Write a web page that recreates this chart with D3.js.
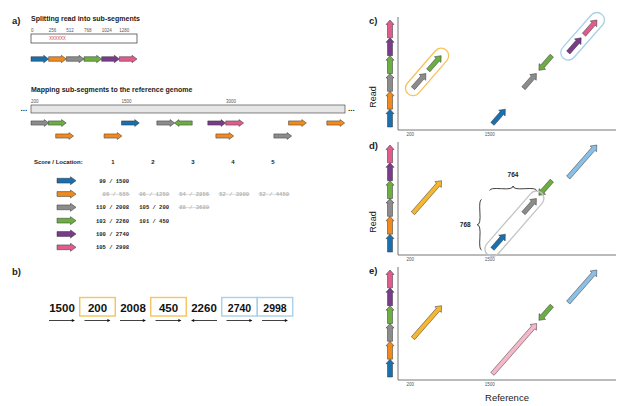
<!DOCTYPE html>
<html><head><meta charset="utf-8">
<script src="https://cdn.jsdelivr.net/npm/d3@7"></script>
<style>body{margin:0;background:#fff}</style>
</head><body><svg id="c" width="629" height="406"></svg>
<script>
// ---------------- data ----------------
const segments  = ['blue','orange','gray','green','purple','pink'];
const segColors = ['#1a6fae','#f08a1e','#8c8c8c','#6cae42','#7b3b8b','#e05c8c'];
const segLength = 256;
const readTicks = [0,256,512,768,1024,1280];
const repeatSeg = 1;                 // segment marked XXXXXX
const refTicksA = [200,1500,3000];
const refTicksC = [200,1500];
const columns   = [1,2,3,4,5];
// hits of every sub-segment
const hitSeg    = [0,1,1,1,1,1,2,2,2,3,3,4,5];
const hitScore  = [99,86,96,54,52,52,110,105,88,103,101,100,105];
const hitLoc    = [1500,555,1250,2856,3900,4450,2008,200,3689,2260,450,2740,2998];
const hitStrand = [1,1,1,1,1,1,1,1,1,-1,1,1,1];
const hitValid  = [1,0,0,0,0,0,1,1,0,1,1,1,1];
const hitLane   = [0,1,1,1,0,0,0,0,1,0,0,0,0];
// panel b
const bLocs   = [1500,200,2008,450,2260,2740,2998];
const bStrand = [1,1,1,1,-1,1,1];
const bGroup  = [0,1,0,1,0,2,2];
// merged blocks (ref start, read start, read end, strand, colour)
const mergedYellow = {ref:200,  r0:512, r1:1024, strand:1, color:'#f5b731'};
const mergedBlue   = {ref:2740, r0:1024,r1:1536, strand:1, color:'#8cbfe6'};
const mergedPink   = {ref:1500, r0:0,   r1:768,  strand:1, color:'#f5b8ca'};
const braceH = 764, braceV = 768;

// ---------------- helpers ----------------
const svg = d3.select('#c');
const FONT = "'Liberation Sans', Arial, Helvetica, sans-serif";
const MONO = "'Liberation Mono', 'DejaVu Sans Mono', monospace";
const readLength = segments.length * segLength;
const hits = hitSeg.map((s,i)=>({seg:s,score:hitScore[i],loc:hitLoc[i],strand:hitStrand[i],valid:hitValid[i],lane:hitLane[i]}));

function arrowPath(x1,y1,x2,y2,bw,hw,hl){
  const dx=x2-x1, dy=y2-y1, L=Math.hypot(dx,dy);
  const ux=dx/L, uy=dy/L, nx=-uy, ny=ux;
  const h=Math.min(hl, L*0.6);
  const bx=x2-ux*h, by=y2-uy*h;
  const p=d3.path();
  p.moveTo(x1+nx*bw, y1+ny*bw);
  p.lineTo(bx+nx*bw, by+ny*bw);
  p.lineTo(bx+nx*hw, by+ny*hw);
  p.lineTo(x2,y2);
  p.lineTo(bx-nx*hw, by-ny*hw);
  p.lineTo(bx-nx*bw, by-ny*bw);
  p.lineTo(x1-nx*bw, y1-ny*bw);
  p.closePath();
  return p.toString();
}
function drawArrow(g,x1,y1,x2,y2,color,bw,hw,hl){
  g.append('path').attr('d',arrowPath(x1,y1,x2,y2,bw,hw,hl))
    .attr('fill',color).attr('stroke','#333').attr('stroke-width',0.5).attr('stroke-linejoin','miter');
}
function text(g,x,y,t,size,opts={}){
  const el=g.append('text').attr('x',x).attr('y',y).text(t)
    .attr('font-family',opts.family||FONT).attr('font-size',size)
    .attr('font-weight',opts.weight||'normal').attr('fill',opts.fill||'#222')
    .attr('text-anchor',opts.anchor||'start');
  return el;
}
function curlyBrace(x1,y1,x2,y2,w,q){
  let dx=x1-x2, dy=y1-y2; const len=Math.hypot(dx,dy); dx/=len; dy/=len;
  const qx1=x1+q*w*dy, qy1=y1-q*w*dx;
  const qx2=(x1-.25*len*dx)+(1-q)*w*dy, qy2=(y1-.25*len*dy)-(1-q)*w*dx;
  const tx1=(x1-.5*len*dx)+w*dy, ty1=(y1-.5*len*dy)-w*dx;
  const qx3=x2+q*w*dy, qy3=y2-q*w*dx;
  const qx4=(x1-.75*len*dx)+(1-q)*w*dy, qy4=(y1-.75*len*dy)-(1-q)*w*dx;
  return `M${x1},${y1}Q${qx1},${qy1} ${qx2},${qy2}T${tx1},${ty1}M${x2},${y2}Q${qx3},${qy3} ${qx4},${qy4}T${tx1},${ty1}`;
}

// ---------------- panel a ----------------
const ga = svg.append('g');
text(ga,12,23.5,'a)',9.5,{weight:'bold'});
text(ga,31,21,'Splitting read into sub-segments',7,{weight:'bold'});
const xRead = d3.scaleLinear().domain([0,readLength]).range([31,137]);
readTicks.forEach(t=>text(ga,xRead(t),31.5,t,4.5,{fill:'#555'}));
ga.append('rect').attr('x',xRead(0)).attr('y',34).attr('width',xRead(readLength)-xRead(0)).attr('height',9)
  .attr('fill','#fff').attr('stroke','#333').attr('stroke-width',0.7);
text(ga,xRead(repeatSeg*segLength)+0.5,40,'XXXXXX',4.6,{fill:'#d9343a'})
  .attr('textLength',xRead(segLength)-xRead(0)-1).attr('lengthAdjust','spacingAndGlyphs');
segments.forEach((s,k)=>drawArrow(ga,xRead(k*segLength),59,xRead((k+1)*segLength),59,segColors[k],2.3,3.7,5));

text(ga,31,92.3,'Mapping sub-segments to the reference genome',7,{weight:'bold'});
const xRef = d3.scaleLinear().domain([200,4711]).range([31,345]);
refTicksA.forEach(t=>text(ga,xRef(t),103.2,t,4.5,{fill:'#555'}));
ga.append('rect').attr('x',xRef.range()[0]).attr('y',105).attr('width',xRef.range()[1]-xRef.range()[0]).attr('height',8)
  .attr('fill','#e6e6e6').attr('stroke','#333').attr('stroke-width',0.6);
text(ga,20.5,111,'...',8,{weight:'bold'});
text(ga,348,111,'...',8,{weight:'bold'});
const laneY = d3.scaleLinear().domain([0,1]).range([123,136]);
hits.forEach(h=>{
  const a=xRef(h.loc), b=xRef(h.loc+segLength), y=laneY(h.lane);
  if(h.strand>0) drawArrow(ga,a,y,b,y,segColors[h.seg],2.1,3.4,4.6);
  else drawArrow(ga,b,y,a,y,segColors[h.seg],2.1,3.4,4.6);
});

// table
const colX = d3.scaleLinear().domain([1,5]).range([113,273]);
const rowY = d3.scaleLinear().domain([0,5]).range([180.7,247.3]);
text(ga,34,164,'Score / Location:',6,{weight:'bold'});
columns.forEach(c=>text(ga,colX(c),164,c,6,{weight:'bold',anchor:'middle'}));
segments.forEach((s,k)=>{
  drawArrow(ga,57,rowY(k),76,rowY(k),segColors[k],2.4,4,5.5);
  hits.filter(h=>h.seg===k).forEach((h,j)=>{
    const t=text(ga,colX(j+1)+16,rowY(k)+2,`${h.score} / ${h.loc}`,5.5,
      {family:MONO,weight:'bold',anchor:'end',fill:h.valid?'#222':'#b4b4b4'});
    if(!h.valid){
      const w=t.node().getComputedTextLength();
      ga.append('line').attr('x1',colX(j+1)+16-w-1).attr('x2',colX(j+1)+17)
        .attr('y1',rowY(k)+0.3).attr('y2',rowY(k)+0.3).attr('stroke','#b4b4b4').attr('stroke-width',0.5);
    }
  });
});

// ---------------- panel b ----------------
const gb = svg.append('g');
text(gb,12,274.5,'b)',9.5,{weight:'bold'});
const bx = d3.scalePoint().domain(d3.range(bLocs.length)).range([62,275]);
const step = bx.step();
const groupColor = {1:'#f6c35c',2:'#a9d0e8'};
bLocs.forEach((v,i)=>{
  const cx=bx(i);
  if(bGroup[i]) gb.append('rect').attr('x',cx-step/2).attr('y',297.5).attr('width',step).attr('height',18.5)
    .attr('fill','none').attr('stroke',groupColor[bGroup[i]]).attr('stroke-width',1.4);
  text(gb,cx,311.6,v,bGroup[i]===2?10.5:11.5,{weight:'bold',anchor:'middle',fill:'#111'});
  const x1=cx-13, x2=cx+13, y=320.5;
  const s=bStrand[i];
  const from= s>0?x1:x2, to= s>0?x2:x1;
  gb.append('line').attr('x1',from).attr('x2',to-s*2.5).attr('y1',y).attr('y2',y).attr('stroke','#111').attr('stroke-width',0.8);
  gb.append('path').attr('d',`M${to},${y}L${to-s*3.2},${y-1.6}L${to-s*3.2},${y+1.6}Z`).attr('fill','#111');
});

// ---------------- panels c, d, e ----------------
const panels = [
  {label:'c)', top:17,  bottom:130, read:true},
  {label:'d)', top:142, bottom:255, read:true},
  {label:'e)', top:267, bottom:380, read:false}
];
const xAxisL = 398, xAxisR = 616;
const xS = d3.scaleLinear().domain([0,3566]).range([xAxisL,xAxisR]);
const validHits = hits.filter(h=>h.valid).map(h=>({ref:h.loc,r0:h.seg*segLength,r1:(h.seg+1)*segLength,strand:h.strand,color:segColors[h.seg],loc:h.loc,seg:h.seg}));
const findHit = (seg,loc)=>validHits.find(h=>h.seg===seg&&h.loc===loc);
const inset = 45;

function blockEnds(b,yS){
  const len=b.r1-b.r0;
  const tail=[xS(b.ref+inset), yS(b.r0+inset)];
  const tip=[xS(b.ref+len), yS(b.r1)];
  return b.strand>0?{tail,tip}:{tail:[xS(b.ref+len),yS(b.r1)],tip:[xS(b.ref+inset),yS(b.r0+inset)]};
}
function capsule(g,p1,p2,color){
  const cx=(p1[0]+p2[0])/2, cy=(p1[1]+p2[1])/2;
  const L=Math.hypot(p2[0]-p1[0],p2[1]-p1[1])+15, H=15;
  const ang=Math.atan2(p2[1]-p1[1],p2[0]-p1[0])*180/Math.PI;
  g.append('rect').attr('x',-L/2).attr('y',-H/2).attr('width',L).attr('height',H).attr('rx',H/2)
    .attr('transform',`translate(${cx},${cy}) rotate(${ang})`)
    .attr('fill','none').attr('stroke',color).attr('stroke-width',1.3);
}

panels.forEach((P,pi)=>{
  const g=svg.append('g');
  const yS=d3.scaleLinear().domain([0,readLength]).range([P.bottom-3,P.top+3]);
  text(g,369,P.top+7,P.label,9.5,{weight:'bold'});
  if(P.read) text(g,0,0,'Read',9,{anchor:'middle'}).attr('transform',`translate(376,${P.top+80}) rotate(-90)`);
  // axes
  g.append('path').attr('d',`M${xAxisL},${P.top}V${P.bottom}H${xAxisR}`).attr('fill','none').attr('stroke','#666').attr('stroke-width',0.9);
  refTicksC.forEach(t=>text(g,xS(t),P.bottom+6,t,4.5,{anchor:'middle',fill:'#555'}));
  // read stack on the y axis
  segments.forEach((s,k)=>drawArrow(g,390,yS(k*segLength),390,yS((k+1)*segLength),segColors[k],2.5,4,4.5));

  const draw=b=>{const e=blockEnds(b,yS); drawArrow(g,e.tail[0],e.tail[1],e.tip[0],e.tip[1],b.color,2.2,4.3,5.2); return e;};
  if(pi===0){
    const eg=draw(findHit(2,200)), eG=draw(findHit(3,450));
    draw(findHit(0,1500)); draw(findHit(2,2008)); draw(findHit(3,2260));
    const ep=draw(findHit(4,2740)), ek=draw(findHit(5,2998));
    capsule(g,eg.tail,eG.tip,'#f6c35c');
    capsule(g,ep.tail,ek.tip,'#a9d0e8');
  } else if(pi===1){
    draw(mergedYellow);
    const eb=draw(findHit(0,1500)), eg=draw(findHit(2,2008));
    draw(findHit(3,2260)); draw(mergedBlue);
    capsule(g,eb.tail,eg.tip,'#c4c4c4');
    // braces
    const bx1=xS(1500), bx2=xS(1500+braceH), byb=yS(braceV)-8;
    g.append('path').attr('d',curlyBrace(bx2,byb,bx1,byb,4.5,0.6)).attr('fill','none').attr('stroke','#111').attr('stroke-width',0.8);
    text(g,(bx1+bx2)/2,byb-13.5,braceH,6.5,{weight:'bold',anchor:'middle'});
    const vx=xS(1500)-8, vy1=yS(braceV)+1, vy2=yS(0)-2;
    g.append('path').attr('d',curlyBrace(vx,vy1,vx,vy2,4.5,0.6)).attr('fill','none').attr('stroke','#111').attr('stroke-width',0.8);
    text(g,vx-11,(vy1+vy2)/2+2.5,braceV,6.5,{weight:'bold',anchor:'end'});
  } else {
    draw(mergedYellow); draw(mergedPink); draw(findHit(3,2260)); draw(mergedBlue);
  }
});
text(svg,(xAxisL+xAxisR)/2,401,'Reference',9.5,{anchor:'middle'});
</script></body></html>
